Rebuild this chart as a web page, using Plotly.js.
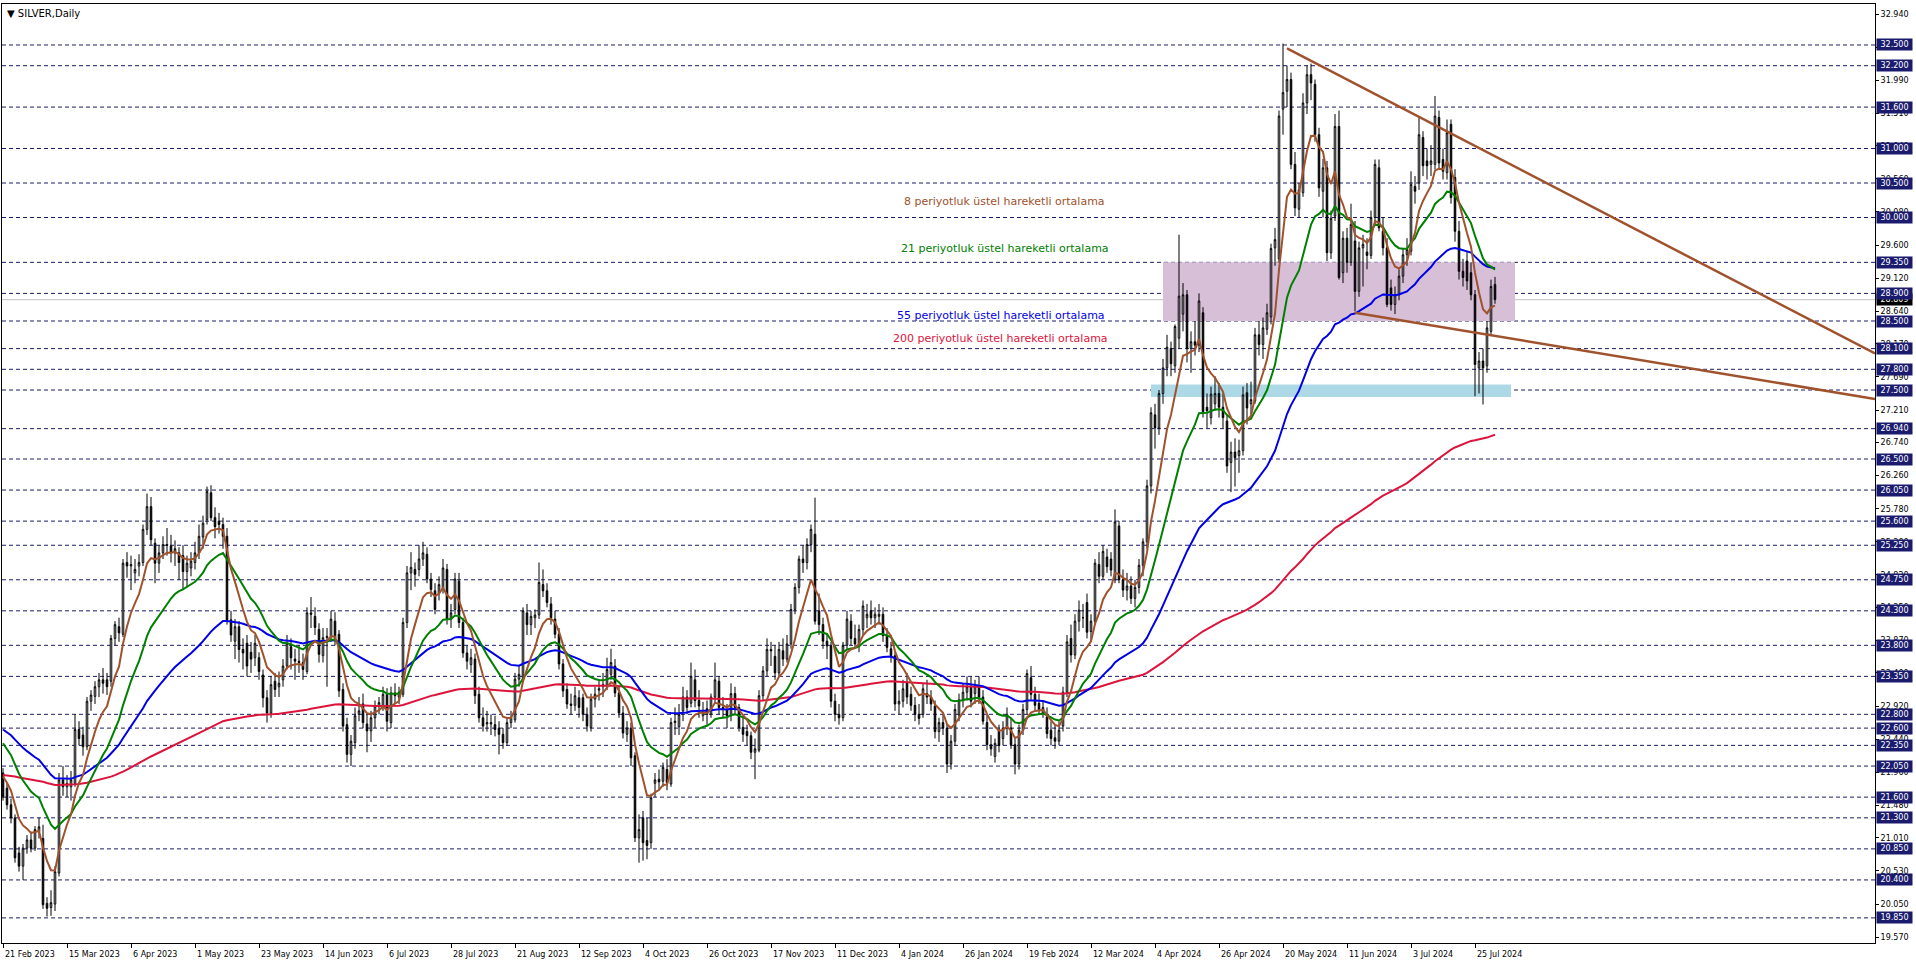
<!DOCTYPE html>
<html><head><meta charset="utf-8">
<script src="https://cdn.plot.ly/plotly-3.0.1.min.js"></script>
<style>html,body{margin:0;padding:0;background:#fff;overflow:hidden}#chart{width:1916px;height:963px}</style>
</head><body><div id="chart"></div>
<script>
// ---- DATA ----
const opens = [
21.95,21.73,21.49,21.30,20.79,20.60,20.86,20.98,20.86,21.10,
21.00,20.06,20.00,20.05,20.50,21.85,21.75,21.75,21.80,22.58,
22.50,22.33,22.99,23.06,23.20,23.30,23.30,23.28,23.90,24.07,
23.96,25.00,24.95,24.85,24.95,25.00,25.48,25.81,25.28,24.99,
25.14,25.26,25.24,25.14,25.14,25.10,24.87,24.92,25.00,25.14,
25.37,25.62,26.01,25.65,25.60,25.55,25.38,24.17,23.86,24.07,
23.74,23.83,23.70,23.62,23.62,23.37,23.04,22.82,23.28,23.20,
23.30,23.50,23.78,23.60,23.57,23.55,23.42,24.27,24.22,24.03,
23.65,23.91,23.93,24.15,23.96,23.16,22.65,22.22,22.39,22.80,
22.95,22.66,22.56,22.75,22.92,22.90,23.09,22.68,23.11,23.05,
23.09,24.13,24.85,24.90,24.90,25.05,25.12,24.76,24.59,24.55,
24.61,24.90,24.18,24.32,24.73,24.13,23.69,23.52,23.60,23.09,
22.75,22.66,22.66,22.65,22.60,22.51,22.39,22.68,22.72,23.31,
23.33,24.27,24.10,24.20,24.24,24.68,24.59,24.40,24.18,23.96,
23.53,23.16,22.95,22.93,23.04,23.04,22.80,22.61,23.02,23.15,
23.20,23.21,23.38,23.50,23.11,22.82,22.51,22.60,22.20,21.01,
21.30,20.97,20.94,21.80,21.86,21.83,22.00,21.79,22.68,22.62,
22.85,23.05,22.96,23.30,23.00,22.78,22.88,22.80,23.05,23.28,
22.90,22.87,22.78,23.10,22.90,22.61,22.55,22.49,22.25,22.28,
23.07,23.43,23.74,23.64,23.40,23.72,23.60,23.82,24.32,24.64,
25.05,25.00,25.26,25.41,24.30,24.10,23.86,23.79,22.99,22.80,
22.75,23.80,24.15,23.90,23.82,24.03,24.20,24.30,24.20,24.22,
24.25,23.94,23.75,23.65,22.95,22.99,23.25,23.09,22.93,22.80,
22.80,23.10,23.05,22.92,22.55,22.68,22.60,22.08,22.41,22.79,
23.01,23.12,23.20,23.10,23.20,23.05,22.68,22.36,22.19,22.57,
22.45,22.60,22.60,22.36,22.08,22.57,22.87,23.33,23.09,22.96,
22.82,22.76,22.57,22.46,22.41,22.63,23.12,23.90,23.66,24.15,
24.20,24.42,24.00,24.15,24.97,24.80,25.08,25.05,24.75,25.53,
24.75,24.60,24.66,24.48,24.64,24.96,25.30,26.11,27.14,26.95,
27.45,27.82,28.10,27.85,28.25,28.60,28.88,28.10,28.20,28.15,
28.62,27.25,27.10,27.30,27.45,27.25,27.05,26.45,26.60,26.55,
26.62,27.46,27.30,27.34,28.30,28.16,28.38,28.56,29.56,29.40,
31.57,31.83,32.00,30.77,30.12,30.36,31.66,32.07,31.93,31.20,
30.38,30.72,29.49,30.02,31.32,29.20,29.70,29.35,29.66,28.93,
29.56,29.50,29.45,30.00,30.72,29.80,29.56,28.98,28.74,28.88,
29.15,29.46,29.51,30.45,30.50,31.16,30.82,30.77,30.77,31.45,
30.84,30.65,31.35,30.58,29.80,29.22,29.37,29.20,28.88,27.82,
27.92,27.85,28.35,29.03];
const highs = [
22.02,21.80,21.58,21.35,20.88,20.92,21.05,21.10,21.18,21.30,
21.20,20.15,20.25,20.60,21.95,22.05,21.92,21.98,22.80,22.70,
22.62,23.05,23.15,23.28,23.40,23.47,23.40,23.95,24.15,24.20,
25.05,25.15,25.10,25.05,25.12,25.55,26.00,25.95,25.35,25.25,
25.38,25.50,25.40,25.32,25.22,25.25,25.10,25.15,25.30,25.55,
25.68,26.10,26.12,25.80,25.72,25.65,25.50,24.30,24.18,24.15,
23.90,23.95,23.85,23.95,23.70,23.45,23.15,23.35,23.40,23.42,
23.60,23.95,23.90,23.75,23.80,23.68,24.35,24.50,24.35,24.12,
24.05,24.05,24.30,24.28,24.02,23.25,22.75,22.50,22.90,23.05,
23.10,22.80,22.85,23.00,23.05,23.20,23.18,23.20,23.25,23.20,
24.20,24.95,25.15,25.00,25.25,25.30,25.22,24.85,24.70,24.80,
25.05,24.98,24.40,24.85,24.85,24.20,23.80,23.75,23.68,23.20,
22.90,22.85,22.80,22.78,22.70,22.60,22.75,22.85,23.40,23.50,
24.35,24.40,24.30,24.32,25.00,24.90,24.70,24.50,24.30,24.05,
23.60,23.25,23.10,23.20,23.15,23.10,22.90,23.10,23.20,23.30,
23.40,23.62,23.75,23.60,23.20,22.92,22.70,22.68,22.25,21.35,
21.40,21.30,21.65,21.95,22.00,22.10,22.15,22.75,22.90,22.95,
23.20,23.15,23.55,23.45,23.15,22.98,23.00,23.10,23.55,23.35,
23.05,22.95,23.25,23.20,22.95,22.75,22.65,22.55,22.45,23.15,
23.50,23.90,23.85,23.80,23.85,23.90,23.95,24.40,24.70,25.10,
25.25,25.35,25.55,25.94,24.55,24.20,23.95,23.85,23.10,22.95,
23.85,24.30,24.25,24.10,24.10,24.45,24.40,24.45,24.35,24.40,
24.35,24.05,23.85,23.70,23.15,23.30,23.40,23.20,23.05,22.95,
23.25,23.30,23.15,23.00,22.75,22.80,22.65,22.50,22.95,23.10,
23.25,23.35,23.35,23.30,23.35,23.15,22.80,22.50,22.45,22.65,
22.70,22.90,22.75,22.45,22.65,22.95,23.45,23.50,23.20,23.10,
23.00,22.90,22.70,22.65,22.70,23.20,23.95,24.10,24.25,24.45,
24.40,24.55,24.25,25.05,25.15,25.25,25.20,25.15,25.77,25.60,
24.90,24.85,24.80,24.75,25.05,25.35,26.20,27.25,27.30,27.50,
27.95,28.30,28.20,28.45,29.75,29.05,28.95,28.35,28.50,28.90,
28.70,27.45,27.55,27.70,27.60,27.45,27.15,26.75,26.80,26.78,
27.55,27.60,27.62,28.40,28.50,28.55,28.75,29.62,29.85,31.55,
32.52,32.20,32.10,30.95,30.50,31.80,32.20,32.23,32.00,31.30,
30.85,30.82,30.10,31.50,31.55,29.80,29.85,30.20,29.95,29.65,
29.75,29.70,30.10,30.84,30.84,30.00,29.70,29.10,29.00,29.25,
29.55,29.70,30.67,30.60,31.47,31.25,31.00,31.05,31.76,31.55,
31.00,31.42,31.42,30.70,29.95,29.40,29.50,29.35,28.95,28.05,
28.10,28.50,29.10,29.14];
const lows = [
21.55,21.42,21.22,20.65,20.52,20.40,20.78,20.80,20.82,21.00,
19.98,19.87,19.88,19.95,20.45,21.62,21.60,21.55,21.75,22.35,
22.20,22.28,22.85,22.95,23.05,23.10,23.08,23.20,23.80,23.85,
23.92,24.78,24.60,24.70,24.80,24.95,25.40,25.25,24.70,24.85,
25.05,25.10,25.00,24.95,24.75,24.60,24.65,24.80,24.90,25.05,
25.20,25.55,25.60,25.35,25.42,25.20,24.10,23.85,23.60,23.55,
23.45,23.35,23.40,23.50,23.30,22.90,22.68,22.75,23.05,23.05,
23.20,23.45,23.45,23.30,23.40,23.30,23.38,24.05,23.95,23.55,
23.55,23.20,23.85,23.80,23.05,22.55,22.10,22.05,22.30,22.70,
22.60,22.25,22.40,22.60,22.80,22.85,22.55,22.60,22.95,22.95,
23.05,24.05,24.60,24.65,24.80,24.95,24.70,24.50,24.25,24.45,
24.55,24.10,24.05,24.25,24.05,23.62,23.45,23.40,22.95,22.68,
22.55,22.55,22.50,22.48,22.22,22.30,22.35,22.60,22.68,23.20,
23.30,23.95,23.95,24.05,24.18,24.50,24.35,24.10,23.90,23.45,
23.05,22.88,22.80,22.85,22.75,22.70,22.55,22.55,22.90,23.00,
23.05,23.15,23.30,23.05,22.75,22.45,22.40,22.05,20.95,20.65,
20.68,20.70,20.85,21.60,21.70,21.75,21.70,21.75,22.50,22.50,
22.70,22.80,22.90,22.90,22.75,22.70,22.65,22.75,22.95,22.80,
22.75,22.60,22.70,22.80,22.55,22.40,22.35,22.15,21.86,22.25,
23.00,23.35,23.50,23.30,23.35,23.50,23.55,23.75,24.25,24.55,
24.85,24.90,25.15,24.10,23.95,23.75,23.60,22.90,22.70,22.65,
22.70,23.75,23.80,23.75,23.70,23.95,24.05,24.10,24.05,24.10,
23.85,23.70,23.55,22.85,22.80,22.90,22.95,22.85,22.70,22.65,
22.75,22.95,22.85,22.45,22.40,22.50,21.95,22.00,22.35,22.70,
22.90,23.00,22.90,22.95,22.95,22.65,22.28,22.20,22.10,22.25,
22.35,22.50,22.30,21.93,22.00,22.50,22.80,23.00,22.85,22.80,
22.75,22.45,22.35,22.30,22.35,22.55,23.05,23.55,23.60,24.00,
24.05,23.90,23.85,24.10,24.70,24.75,24.85,24.80,24.70,24.70,
24.50,24.45,24.40,24.35,24.55,24.80,25.20,26.00,26.65,26.85,
27.30,27.70,27.70,27.75,28.10,28.35,27.90,27.75,28.00,28.05,
27.10,26.95,27.00,27.20,27.10,26.95,26.30,26.02,26.10,26.30,
26.55,27.00,27.15,27.30,28.00,27.95,28.30,28.45,29.30,29.35,
31.20,31.60,30.70,30.02,30.00,30.30,31.50,31.70,31.10,30.30,
30.00,29.37,29.40,29.95,29.10,29.05,29.20,29.30,28.64,28.85,
29.00,29.25,29.40,29.90,29.80,29.45,28.70,28.65,28.60,28.80,
29.05,29.30,29.45,30.20,30.40,30.60,30.55,30.60,30.70,30.70,
30.55,30.55,30.20,29.65,29.10,29.00,28.95,28.80,27.41,27.45,
27.29,27.75,28.30,28.75];
const closes = [
21.61,21.49,21.30,20.72,20.60,20.86,20.98,20.86,21.13,21.17,
20.04,19.99,20.07,20.52,21.85,21.75,21.80,21.85,22.58,22.45,
22.33,22.99,23.08,23.20,23.30,23.25,23.20,23.90,24.10,23.98,
24.99,24.95,24.97,24.90,25.00,25.48,25.81,25.33,24.99,25.14,
25.26,25.25,25.14,25.20,25.00,24.87,24.99,25.02,25.14,25.38,
25.57,26.03,25.65,25.52,25.55,25.38,24.17,23.95,24.07,23.74,
23.69,23.50,23.60,23.83,23.42,23.04,22.82,23.23,23.16,23.25,
23.50,23.83,23.62,23.57,23.55,23.45,24.27,24.25,24.06,23.67,
23.91,23.93,24.18,23.91,23.14,22.63,22.22,22.41,22.78,22.85,
22.68,22.56,22.75,22.92,22.97,23.09,22.70,23.11,23.07,23.12,
24.13,24.85,24.93,24.83,25.05,25.14,24.76,24.61,24.32,24.68,
24.92,24.18,24.27,24.76,24.13,23.69,23.57,23.62,23.07,22.75,
22.63,22.68,22.68,22.58,22.51,22.39,22.68,22.75,23.31,23.38,
24.30,24.10,24.22,24.24,24.71,24.59,24.42,24.20,23.96,23.53,
23.14,22.95,22.93,23.07,22.90,22.80,22.63,23.02,23.09,23.17,
23.23,23.45,23.55,23.11,22.82,22.53,22.60,22.17,21.01,21.13,
20.94,20.90,21.59,21.85,21.82,22.03,21.81,22.68,22.70,22.80,
23.05,22.90,23.35,23.00,22.92,22.85,22.80,23.05,23.30,22.90,
22.87,22.78,23.10,22.90,22.61,22.51,22.49,22.25,22.30,23.07,
23.43,23.74,23.72,23.40,23.74,23.60,23.82,24.32,24.64,25.05,
25.00,25.26,25.48,24.15,24.10,23.86,23.79,22.99,22.80,22.75,
23.80,24.18,23.90,23.82,24.03,24.37,24.25,24.20,24.25,24.25,
23.94,23.77,23.65,22.95,22.99,23.17,23.05,22.93,22.80,22.74,
23.17,23.05,22.95,22.55,22.68,22.60,22.08,22.41,22.87,23.01,
23.12,23.20,22.99,23.20,23.05,22.70,22.36,22.30,22.38,22.35,
22.60,22.80,22.36,22.08,22.57,22.87,23.39,23.09,22.93,22.87,
22.90,22.52,22.45,22.41,22.57,23.12,23.85,23.66,24.15,24.31,
24.20,23.99,24.15,24.99,24.80,25.16,24.94,24.89,25.59,24.75,
24.60,24.66,24.48,24.64,24.96,25.30,26.11,27.17,26.95,27.45,
27.82,28.12,27.88,28.42,28.86,28.88,28.10,28.20,28.15,28.79,
27.19,27.20,27.44,27.45,27.25,27.10,26.40,26.60,26.52,26.62,
27.43,27.24,27.36,28.30,28.16,28.40,28.62,29.55,29.68,31.47,
31.81,32.00,30.77,30.14,30.40,31.66,32.07,31.95,31.20,30.43,
30.72,29.49,29.99,31.32,29.13,29.70,29.35,29.90,28.93,29.56,
29.61,29.45,30.00,30.77,29.85,29.56,28.74,28.74,28.88,29.15,
29.46,29.54,30.48,30.38,31.20,30.75,30.75,30.82,31.47,30.79,
30.67,31.23,30.29,29.80,29.22,29.13,29.08,28.88,27.87,27.92,
27.82,28.40,29.00,28.81];

const dateLabels = ["21 Feb 2023","15 Mar 2023","6 Apr 2023","1 May 2023","23 May 2023","14 Jun 2023",
"6 Jul 2023","28 Jul 2023","21 Aug 2023","12 Sep 2023","4 Oct 2023","26 Oct 2023","17 Nov 2023",
"11 Dec 2023","4 Jan 2024","26 Jan 2024","19 Feb 2024","12 Mar 2024","4 Apr 2024","26 Apr 2024",
"20 May 2024","11 Jun 2024","3 Jul 2024","25 Jul 2024"];
const barsPerLabel = 16;

const levels = [32.5,32.2,31.6,31.0,30.5,30.0,29.35,28.9,28.5,28.1,27.8,27.5,26.94,26.5,26.05,
25.6,25.25,24.75,24.3,23.8,23.35,22.8,22.6,22.35,22.05,21.6,21.3,20.85,20.4,19.85];
const priceTicks = [32.94,32.47,31.99,31.51,31.04,30.56,30.08,29.60,29.12,28.64,28.17,27.69,27.21,
26.74,26.26,25.78,25.30,24.82,24.35,23.87,23.40,22.92,22.44,21.96,21.48,21.01,20.53,20.05,19.57];
const bidPrice = 28.809;

const emaPeriods = [8, 21, 55, 200];
const emaStart = [21.90, 22.38, 22.58, 21.92];   // indicator values at the first bar
const emaNames = ["8 periyotluk üstel hareketli ortalama","21 periyotluk üstel hareketli ortalama",
"55 periyotluk üstel hareketli ortalama","200 periyotluk üstel hareketli ortalama"];

const upperTrendX = [321, 468], upperTrendY = [32.45, 28.03];
const lowerTrendX = [338, 468], lowerTrendY = [28.62, 27.37];
const zonePurpleX = [290, 378], zonePurpleY = [28.5, 29.35];
const zoneBlueX = [287, 377], zoneBlueY = [27.40, 27.58];

// ---- STYLE ----
const NAVY = '#1b1b6e';
const emaColors = ['#a0522d', '#008000', '#0000e6', '#dc143c'];
const labelPos = [[224.7, 30.23], [224.0, 29.55], [223.0, 28.586], [222.0, 28.24]];
const FONT = 'DejaVu Sans, Verdana, sans-serif';

const xs = closes.map((_, i) => i);
function ema(vals, period, start) {
  const k = 2 / (period + 1); const out = []; let p = start;
  for (let i = 0; i < vals.length; i++) { if (i > 0) p = p + k * (vals[i] - p); out.push(p); }
  return out;
}

const traces = [{
  type: 'candlestick', x: xs, open: opens, high: highs, low: lows, close: closes,
  increasing: {line: {color: '#000', width: 1}, fillcolor: '#fff'},
  decreasing: {line: {color: '#000', width: 1}, fillcolor: '#000'},
  whiskerwidth: 0, hoverinfo: 'skip'
}];
[3, 2, 1, 0].forEach(j => {
  traces.push({type: 'scatter', mode: 'lines', x: xs, y: ema(closes, emaPeriods[j], emaStart[j]),
    line: {color: emaColors[j], width: 2}, hoverinfo: 'skip'});
});
traces.push({type: 'scatter', mode: 'lines', x: upperTrendX, y: upperTrendY, line: {color: '#a0522d', width: 2.5}, cliponaxis: true, hoverinfo: 'skip'});
traces.push({type: 'scatter', mode: 'lines', x: lowerTrendX, y: lowerTrendY, line: {color: '#a0522d', width: 2.5}, cliponaxis: true, hoverinfo: 'skip'});

const shapes = [
  {type: 'rect', layer: 'below', xref: 'x', yref: 'y', x0: zonePurpleX[0], x1: zonePurpleX[1], y0: zonePurpleY[0], y1: zonePurpleY[1], fillcolor: '#d8bfd8', line: {width: 0}},
  {type: 'rect', layer: 'below', xref: 'x', yref: 'y', x0: zoneBlueX[0], x1: zoneBlueX[1], y0: zoneBlueY[0], y1: zoneBlueY[1], fillcolor: '#add8e6', line: {width: 0}}
];
levels.forEach(v => shapes.push({type: 'line', layer: 'below', xref: 'paper', x0: 0, x1: 1, yref: 'y', y0: v, y1: v,
  line: {color: NAVY, width: 1, dash: '4px,3px'}}));
shapes.push({type: 'line', layer: 'below', xref: 'paper', x0: 0, x1: 1, yref: 'y', y0: bidPrice, y1: bidPrice, line: {color: '#c0c0c0', width: 1}});

const annotations = [];
annotations.push({xref: 'paper', x: 1, xanchor: 'left', xshift: 1, yref: 'y', y: bidPrice, text: bidPrice.toFixed(3),
  showarrow: false, bgcolor: '#000', font: {color: '#fff', size: 8, family: FONT}, borderpad: 1, width: 33});
levels.forEach(v => annotations.push({xref: 'paper', x: 1, xanchor: 'left', xshift: 1, yref: 'y', y: v, text: v.toFixed(3),
  showarrow: false, bgcolor: NAVY, font: {color: '#fff', size: 8, family: FONT}, borderpad: 1, width: 33}));
dateLabels.forEach((t, k) => annotations.push({xref: 'x', x: k * barsPerLabel, xanchor: 'left', xshift: 0,
  yref: 'paper', y: 0, yanchor: 'top', yshift: -5, text: t, showarrow: false, font: {size: 8, family: FONT, color: '#000'}}));
emaNames.forEach((t, j) => annotations.push({xref: 'x', x: labelPos[j][0], xanchor: 'left', yref: 'y', y: labelPos[j][1],
  yanchor: 'middle', text: t, showarrow: false, font: {size: 11, family: FONT, color: emaColors[j]}}));
annotations.push({xref: 'paper', x: 0, xanchor: 'left', xshift: 3, yref: 'paper', y: 1, yanchor: 'top', yshift: -2,
  text: '▼ SILVER,Daily', showarrow: false, font: {size: 10, family: FONT, color: '#000'}});

const layout = {
  width: 1916, height: 963, margin: {l: 2, r: 41, t: 4, b: 20},
  paper_bgcolor: '#fff', plot_bgcolor: '#fff', showlegend: false, boxgap: 0.45,
  xaxis: {range: [-0.25, 468], showgrid: false, zeroline: false, showline: true, mirror: true, linecolor: '#000', linewidth: 1,
    tickvals: dateLabels.map((_, k) => k * barsPerLabel), ticks: 'outside', ticklen: 4, tickcolor: '#000',
    showticklabels: false, rangeslider: {visible: false}, fixedrange: true},
  yaxis: {range: [19.486, 33.094], side: 'right', showgrid: false, zeroline: false, showline: true, mirror: true,
    linecolor: '#000', linewidth: 1, ticks: 'outside', ticklen: 3, tickcolor: '#000',
    tickvals: priceTicks, ticktext: priceTicks.map(v => v.toFixed(3)), tickfont: {size: 8, family: FONT, color: '#000'}, fixedrange: true},
  shapes: shapes, annotations: annotations
};
Plotly.newPlot('chart', traces, layout, {displayModeBar: false, staticPlot: true});
</script></body></html>
